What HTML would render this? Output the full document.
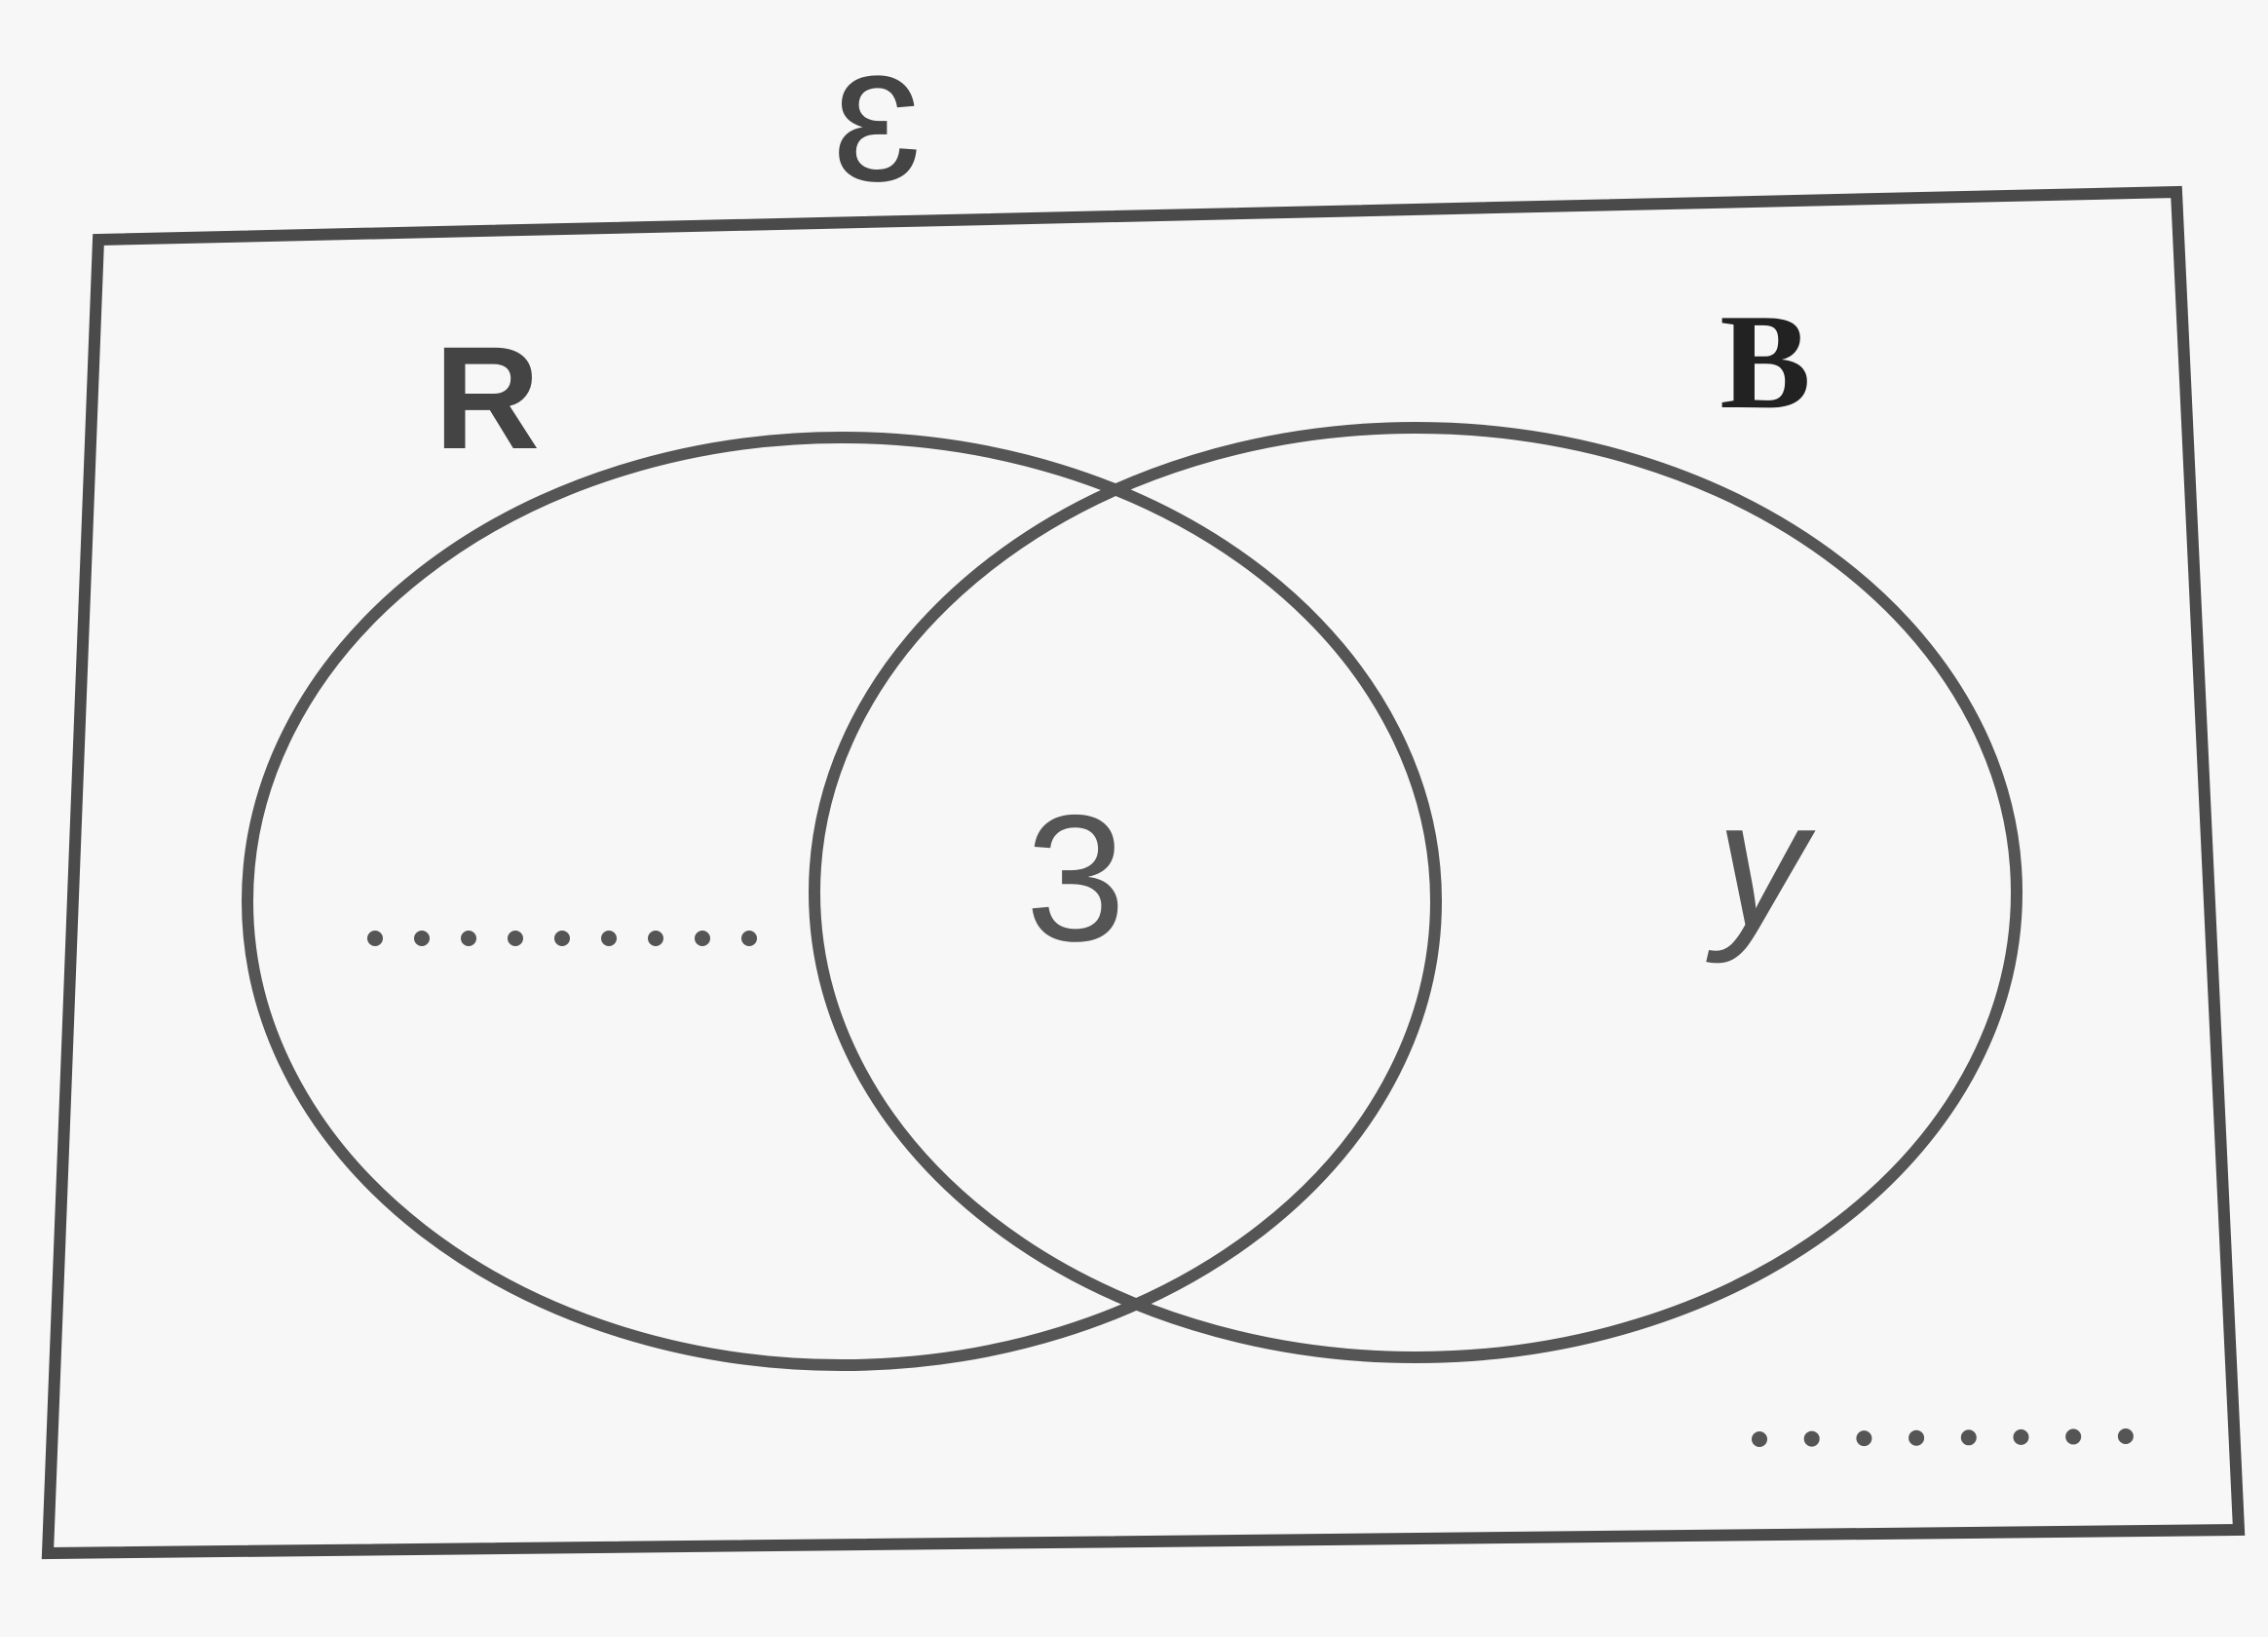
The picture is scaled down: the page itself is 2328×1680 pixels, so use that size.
<!DOCTYPE html>
<html><head><style>html,body{margin:0;padding:0;background:#f7f7f7;}svg{display:block}</style></head>
<body>
<svg width="2328" height="1680" viewBox="0 0 2328 1680" xmlns="http://www.w3.org/2000/svg">
<rect width="2328" height="1680" fill="#f7f7f7"/>
<polygon points="101,246 2234,197 2298,1570 49,1594" fill="none" stroke="#4a4a4a" stroke-width="12"/>
<ellipse cx="864" cy="925" rx="610" ry="476" fill="none" stroke="#555" stroke-width="12"/>
<ellipse cx="1453" cy="916" rx="617" ry="477" fill="none" stroke="#555" stroke-width="12"/>
<text x="900" y="185" font-family="Liberation Sans, sans-serif" font-size="200" fill="#444" text-anchor="middle">ɛ</text>
<text x="500" y="460" font-family="Liberation Sans, sans-serif" font-weight="bold" font-size="150" fill="#444" text-anchor="middle">R</text>
<text x="1812" y="418" font-family="Liberation Serif, serif" font-weight="bold" font-size="140" fill="#222" text-anchor="middle">B</text>
<text x="1104" y="965" font-family="Liberation Sans, sans-serif" font-size="185" fill="#555" text-anchor="middle">3</text>
<text x="1808" y="950" font-family="Liberation Sans, sans-serif" font-style="italic" font-size="185" fill="#555" text-anchor="middle">y</text>
<line x1="385" y1="963" x2="785" y2="963" stroke="#555" stroke-width="16" stroke-linecap="round" stroke-dasharray="0 48"/>
<line x1="1806" y1="1477" x2="2182" y2="1474" stroke="#555" stroke-width="16" stroke-linecap="round" stroke-dasharray="0 53.7"/>
</svg>
</body></html>
